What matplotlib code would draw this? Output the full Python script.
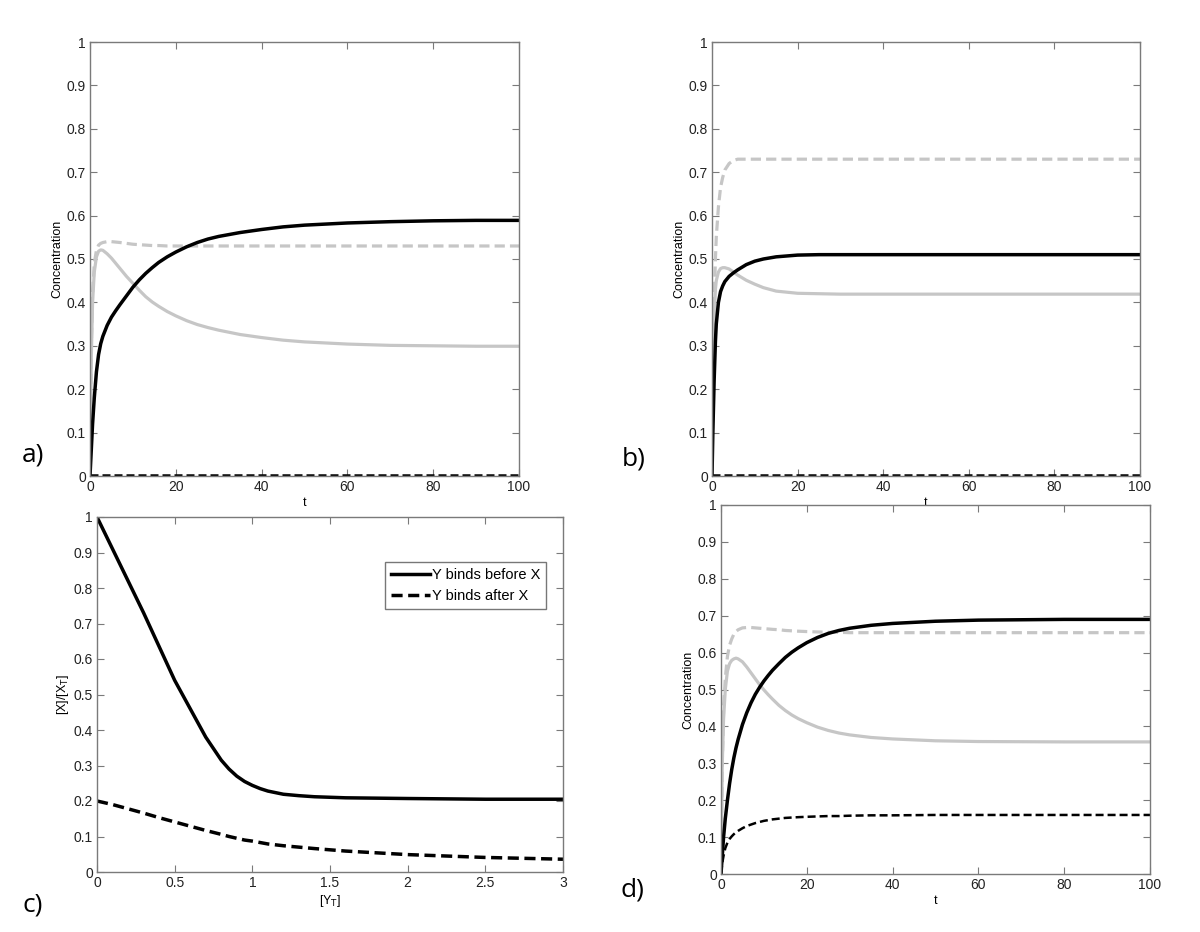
import numpy as np
import matplotlib
matplotlib.use("Agg")
import matplotlib.pyplot as plt
from matplotlib.ticker import FormatStrFormatter

plt.rcParams['font.family'] = ['Liberation Sans', 'DejaVu Sans']

# ---- panel a ----
t_a = [0, 0.3, 0.6, 1, 1.5, 2, 2.5, 3, 4, 5, 6, 7, 8.5, 10, 11.5, 13, 14.5, 16, 18, 20, 22.5, 25, 27.5, 30, 35, 40, 45, 50, 60, 70, 80, 90, 100]
a_black = [0, 0.06, 0.12, 0.18, 0.24, 0.28, 0.305, 0.322, 0.347, 0.366, 0.381, 0.395, 0.415, 0.435, 0.452, 0.467, 0.48, 0.492, 0.505, 0.516, 0.528, 0.538, 0.546, 0.552, 0.561, 0.568, 0.574, 0.578, 0.583, 0.586, 0.588, 0.589, 0.589]
a_gray = [0, 0.27, 0.40, 0.47, 0.505, 0.518, 0.521, 0.52, 0.512, 0.502, 0.49, 0.478, 0.46, 0.444, 0.428, 0.413, 0.401, 0.391, 0.379, 0.369, 0.358, 0.349, 0.342, 0.336, 0.326, 0.319, 0.313, 0.309, 0.304, 0.301, 0.3, 0.299, 0.299]
a_gray_dash = [0, 0.3, 0.42, 0.49, 0.52, 0.532, 0.536, 0.538, 0.54, 0.54, 0.539, 0.538, 0.536, 0.534, 0.533, 0.532, 0.531, 0.531, 0.53, 0.53, 0.53, 0.53, 0.53, 0.53, 0.53, 0.53, 0.53, 0.53, 0.53, 0.53, 0.53, 0.53, 0.53]
a_black_dash = [0.002] * len(t_a)

# ---- panel b ----
t_b = [0, 0.2, 0.5, 0.8, 1, 1.5, 2, 2.5, 3, 4, 5, 6, 7, 8, 10, 12, 15, 20, 25, 30, 50, 100]
b_black = [0, 0.1, 0.22, 0.31, 0.35, 0.40, 0.425, 0.438, 0.448, 0.46, 0.468, 0.475, 0.481, 0.487, 0.495, 0.5, 0.505, 0.509, 0.51, 0.51, 0.51, 0.51]
b_gray = [0, 0.2, 0.36, 0.43, 0.45, 0.47, 0.478, 0.48, 0.48, 0.477, 0.47, 0.463, 0.457, 0.451, 0.442, 0.434, 0.426, 0.421, 0.42, 0.419, 0.419, 0.419]
b_gray_dash = [0, 0.2, 0.4, 0.5, 0.55, 0.62, 0.665, 0.688, 0.705, 0.72, 0.727, 0.73, 0.73, 0.73, 0.73, 0.73, 0.73, 0.73, 0.73, 0.73, 0.73, 0.73]
b_black_dash = [0.002] * len(t_b)

# ---- panel c ----
yt = [0, 0.1, 0.2, 0.3, 0.4, 0.5, 0.6, 0.7, 0.8, 0.85, 0.9, 0.95, 1.0, 1.05, 1.1, 1.2, 1.3, 1.4, 1.6, 2.0, 2.5, 3.0]
c_before = [1.0, 0.91, 0.82, 0.73, 0.635, 0.54, 0.46, 0.38, 0.315, 0.29, 0.27, 0.255, 0.244, 0.235, 0.228, 0.219, 0.215, 0.212, 0.209, 0.207, 0.205, 0.205]
c_after = [0.2, 0.19, 0.178, 0.166, 0.153, 0.141, 0.129, 0.117, 0.106, 0.1, 0.095, 0.09, 0.087, 0.083, 0.079, 0.074, 0.07, 0.066, 0.059, 0.049, 0.041, 0.036]
c_labels = ['Y binds before X', 'Y binds after X']

# ---- panel d ----
t_d = [0, 0.3, 0.6, 1, 1.5, 2, 2.5, 3, 3.5, 4, 5, 6, 7, 8, 9, 10, 11, 12, 13.5, 15, 16.5, 18, 20, 22.5, 25, 27.5, 30, 35, 40, 50, 60, 80, 100]
d_black = [0, 0.05, 0.1, 0.15, 0.2, 0.245, 0.283, 0.315, 0.342, 0.365, 0.405, 0.437, 0.464, 0.487, 0.506, 0.523, 0.538, 0.552, 0.57, 0.587, 0.601, 0.613, 0.627, 0.641, 0.652, 0.66, 0.666, 0.674, 0.679, 0.685, 0.688, 0.69, 0.69]
d_gray = [0, 0.3, 0.42, 0.5, 0.55, 0.57, 0.579, 0.583, 0.585, 0.583, 0.575, 0.561, 0.545, 0.529, 0.513, 0.499, 0.486, 0.474, 0.457, 0.443, 0.431, 0.421, 0.41, 0.398, 0.389, 0.382, 0.377, 0.37, 0.366, 0.361, 0.359, 0.358, 0.358]
d_gray_dash = [0, 0.3, 0.45, 0.53, 0.59, 0.62, 0.637, 0.65, 0.657, 0.662, 0.667, 0.668, 0.668, 0.667, 0.666, 0.665, 0.664, 0.663, 0.662, 0.66, 0.659, 0.658, 0.657, 0.656, 0.655, 0.655, 0.654, 0.654, 0.654, 0.654, 0.654, 0.654, 0.654]
d_black_dash = [0, 0.03, 0.05, 0.07, 0.085, 0.095, 0.102, 0.108, 0.113, 0.117, 0.124, 0.13, 0.134, 0.138, 0.141, 0.144, 0.146, 0.148, 0.15, 0.152, 0.153, 0.154, 0.155, 0.156, 0.157, 0.157, 0.158, 0.159, 0.159, 0.16, 0.16, 0.16, 0.16]

W, H = 1200, 932
GRAY = '#c6c6c6'
DASH = (0, (3.2, 1.6))

fig = plt.figure(figsize=(12, 9.32), dpi=100)


def make_ax(x0, x1, ytop, ybot):
    ax = fig.add_axes([x0 / W, (H - ybot) / H, (x1 - x0) / W, (ybot - ytop) / H])
    for s in ax.spines.values():
        s.set_color('#7a7a7a')
        s.set_linewidth(1.0)
    ax.tick_params(direction='in', top=True, right=True, length=5, width=0.8,
                   color='#7a7a7a', labelsize=10, pad=3, labelcolor='#222222')
    ax.set_ylim(0, 1)
    ax.set_yticks(np.arange(0, 1.01, 0.1))
    ax.yaxis.set_major_formatter(FormatStrFormatter('%g'))
    return ax


def conc_panel(ax, t, black, gray, gray_dash, black_dash):
    ax.plot(t, gray, color=GRAY, lw=2.3, solid_capstyle='butt')
    ax.plot(t, gray_dash, color=GRAY, lw=2.3, linestyle=DASH)
    ax.plot(t, black, color='black', lw=2.5)
    ax.plot(t, black_dash, color='black', lw=1.8, linestyle=DASH)
    ax.set_xlim(0, 100)
    ax.set_xticks([0, 20, 40, 60, 80, 100])
    ax.set_xlabel('t', fontsize=9, labelpad=2)
    ax.set_ylabel('Concentration', fontsize=9, labelpad=2)


ax_a = make_ax(90, 519, 42, 476)
conc_panel(ax_a, t_a, a_black, a_gray, a_gray_dash, a_black_dash)

ax_b = make_ax(712, 1140, 42, 476)
conc_panel(ax_b, t_b, b_black, b_gray, b_gray_dash, b_black_dash)

ax_c = make_ax(97, 563, 517, 872)
ax_c.plot(yt, c_before, color='black', lw=2.5, label=c_labels[0])
ax_c.plot(yt, c_after, color='black', lw=2.5, linestyle=DASH, label=c_labels[1])
ax_c.set_xlim(0, 3)
ax_c.set_xticks([0, 0.5, 1, 1.5, 2, 2.5, 3])
ax_c.xaxis.set_major_formatter(FormatStrFormatter('%g'))
ax_c.set_xlabel('[Y$_\\mathrm{T}$]', fontsize=9, labelpad=2)
ax_c.set_ylabel('[X]/[X$_\\mathrm{T}$]', fontsize=9, labelpad=2)
leg = ax_c.legend(loc='upper right', bbox_to_anchor=(0.963, 0.872), fontsize=10.5,
                  frameon=True, fancybox=False, handlelength=2.7, handletextpad=0.1,
                  borderpad=0.4, labelspacing=0.45, borderaxespad=0)
leg.get_frame().set_edgecolor('#555555')
leg.get_frame().set_linewidth(1.0)

ax_d = make_ax(721, 1150, 505, 874)
conc_panel(ax_d, t_d, d_black, d_gray, d_gray_dash, d_black_dash)

for lbl, x, y in [('a)', 22, 455), ('b)', 622, 459), ('c)', 22, 905), ('d)', 620, 890)]:
    fig.text(x / W, 1 - y / H, lbl, fontsize=19, family='Open Sans', va='center', ha='left')

fig.savefig('out.png', dpi=100, facecolor='white')
